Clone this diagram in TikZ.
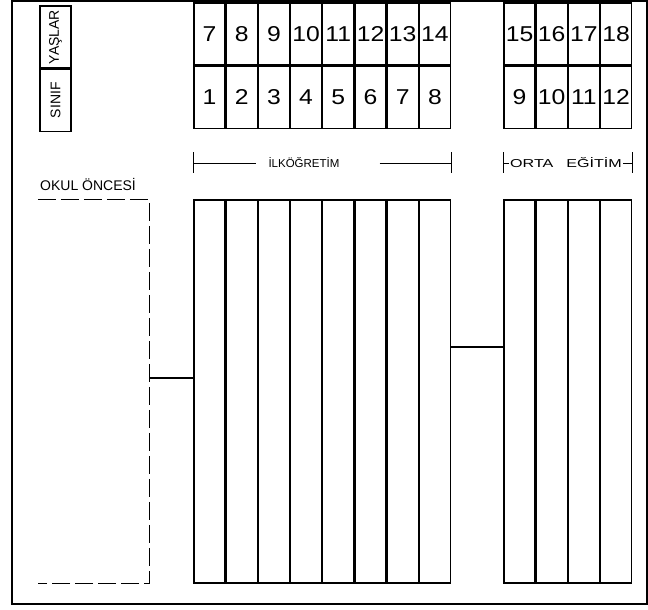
\documentclass[tikz,border=0pt]{standalone}
\usepackage{fontspec}
\setmainfont{Liberation Sans}
\newfontfamily\cellfont[FakeStretch=1.15]{Liberation Sans}
\newfontfamily\widefont[FakeStretch=1.4]{Liberation Sans}
\usetikzlibrary{positioning}
\tikzstyle{cell} = [rectangle, draw=black, line width=1.2pt, minimum width=31pt, minimum height=62pt, inner sep=0pt, font=\cellfont\fontsize{21.5}{21.5}\selectfont]
\tikzstyle{headcell} = [rectangle, draw=black, line width=1.2pt, minimum width=31pt, minimum height=62pt, inner sep=0pt, font=\fontsize{14}{14}\selectfont]
\tikzstyle{column} = [rectangle, draw=black, line width=1.2pt, minimum width=31pt, minimum height=383pt, inner sep=0pt]
\tikzstyle{stage} = [inner sep=0pt, font=\fontsize{11.5}{11.5}\selectfont]
\tikzstyle{bracket} = [line width=0.9pt]
\tikzstyle{dashline} = [line width=1.1pt, dash pattern=on 18pt off 5pt]
\tikzstyle{link} = [line width=1.2pt]

\begin{document}
\begin{tikzpicture}[x=1pt, y=1pt, node distance=0pt]
  \useasboundingbox (0,0) rectangle (648,-610);
  \draw [line width=2.5pt] (12,-1) rectangle (647,-604);

  \node (yaslar) [headcell] at (55.5,-37) {\rotatebox{90}{YAŞLAR}};
  \node (sinif) [headcell, below=of yaslar] {\rotatebox{90}{SINIF}};

  \node (y1) [cell] at (209.5,-34) {7};
  \node (y2) [cell, right=of y1] {8};
  \node (y3) [cell, right=of y2] {9};
  \node (y4) [cell, right=of y3] {10};
  \node (y5) [cell, right=of y4] {11};
  \node (y6) [cell, right=of y5] {12};
  \node (y7) [cell, right=of y6] {13};
  \node (y8) [cell, right=of y7] {14};
  \node (s1) [cell, below=of y1] {1};
  \node (s2) [cell, right=of s1] {2};
  \node (s3) [cell, right=of s2] {3};
  \node (s4) [cell, right=of s3] {4};
  \node (s5) [cell, right=of s4] {5};
  \node (s6) [cell, right=of s5] {6};
  \node (s7) [cell, right=of s6] {7};
  \node (s8) [cell, right=of s7] {8};

  \node (y9) [cell] at (519.5,-34) {15};
  \node (y10) [cell, right=of y9] {16};
  \node (y11) [cell, right=of y10] {17};
  \node (y12) [cell, right=of y11] {18};
  \node (s9) [cell, below=of y9] {9};
  \node (s10) [cell, right=of s9] {10};
  \node (s11) [cell, right=of s10] {11};
  \node (s12) [cell, right=of s11] {12};

  \node (ilk) [stage] at (304,-163) {İLKÖĞRETİM};
  \coordinate (ilkL) at (s1.west |- ilk);
  \coordinate (ilkR) at (s8.east |- ilk);
  \draw [bracket] (ilkL) -- ([xshift=-12pt]ilk.west);
  \draw [bracket] ([xshift=40pt]ilk.east) -- (ilkR);
  \draw [bracket] ([yshift=11pt]ilkL) -- ([yshift=-10pt]ilkL);
  \draw [bracket] ([yshift=11pt]ilkR) -- ([yshift=-10pt]ilkR);

  \node (orta) [stage, font=\widefont\fontsize{11.5}{11.5}\selectfont] at (566,-163) {ORTA\hspace{13pt}EĞİTİM};
  \coordinate (ortaL) at (s9.west |- orta);
  \coordinate (ortaR) at (s12.east |- orta);
  \draw [bracket] (ortaL) -- ([xshift=-1pt]orta.west);
  \draw [bracket] ([xshift=1pt]orta.east) -- (ortaR);
  \draw [bracket] ([yshift=11pt]ortaL) -- ([yshift=-10pt]ortaL);
  \draw [bracket] ([yshift=11pt]ortaR) -- ([yshift=-10pt]ortaR);

  \node (okultext) [stage, font=\fontsize{14}{14}\selectfont, anchor=base west] at (40,-190) {OKUL ÖNCESİ};

  \node (c1) [column] at (209.5,-391.5) {};
  \node (c2) [column, right=of c1] {};
  \node (c3) [column, right=of c2] {};
  \node (c4) [column, right=of c3] {};
  \node (c5) [column, right=of c4] {};
  \node (c6) [column, right=of c5] {};
  \node (c7) [column, right=of c6] {};
  \node (c8) [column, right=of c7] {};

  \node (c9) [column] at (519.5,-391.5) {};
  \node (c10) [column, right=of c9] {};
  \node (c11) [column, right=of c10] {};
  \node (c12) [column, right=of c11] {};

  \node (okul) [minimum width=111pt, minimum height=384pt, inner sep=0pt] at (93.5,-391.5) {};
  \draw [dashline] (okul.north west) -- (okul.north east) -- (okul.south east) -- (okul.south west);

  \draw [link] ([yshift=13.5pt]okul.east) -- ([yshift=13.5pt]c1.west);
  \draw [link] ([yshift=44.5pt]c8.east) -- ([yshift=44.5pt]c9.west);
\end{tikzpicture}
\end{document}
